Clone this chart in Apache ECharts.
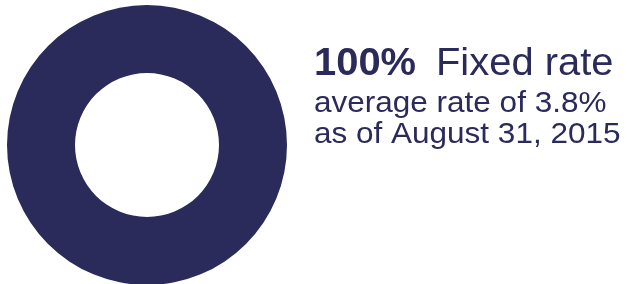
<!DOCTYPE html>
<html>
  <head>
    <meta charset="utf-8" />
    <title>Fixed rate donut</title>
    <style>
      html, body { margin: 0; padding: 0; background: #fff; }
      #main { width: 627px; height: 284px; }
    </style>
  </head>
  <body>
    <script src="https://cdn.jsdelivr.net/npm/echarts@6/dist/echarts.min.js"></script>
    <div id="main"></div>
    <script>
      // data
      var categories = ["Fixed rate"];
      var shares = [100];
      var headline = "100%";
      var subLines = ["average rate of 3.8%", "as of August 31, 2015"];

      var navy = "#2a2a5b";
      var font = "Liberation Sans, Arial, sans-serif";
      var stretch = 1.05; // reference type is a touch wider than Arial

      var chart = echarts.init(document.getElementById("main"));

      function textEl(x, y, text, size, weight) {
        return {
          type: "text",
          x: x,
          y: y,
          scaleX: stretch,
          style: {
            text: text,
            fontFamily: font,
            fontSize: size,
            fontWeight: weight || "normal",
            fill: navy
          }
        };
      }

      chart.setOption({
        animation: false,
        series: [
          {
            type: "pie",
            center: [147, 145],
            radius: [72, 140],
            silent: true,
            label: { show: false },
            labelLine: { show: false },
            itemStyle: { color: navy },
            data: categories.map(function (c, i) {
              return { name: c, value: shares[i] };
            })
          }
        ],
        graphic: [
          textEl(314, 46, headline, 38, "bold"),
          textEl(436, 46, categories[0], 38),
          textEl(314, 89, subLines[0], 30),
          textEl(314, 120, subLines[1], 30)
        ]
      });
    </script>
  </body>
</html>
